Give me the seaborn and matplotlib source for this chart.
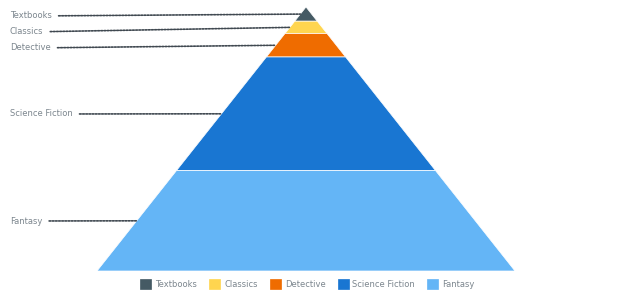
import matplotlib
matplotlib.use('Agg')
import matplotlib.pyplot as plt
import seaborn as sns
from matplotlib.patches import Patch

# Data (bottom to top)
categories = ["Fantasy", "Science Fiction", "Detective", "Classics", "Textbooks"]
values = [637166, 721630, 148662, 78662, 90000]
colors = ["#64b5f6", "#1976d2", "#ef6c00", "#ffd54f", "#455a64"]
legend_order = ["Textbooks", "Classics", "Detective", "Science Fiction", "Fantasy"]

sns.set_style('white')
plt.rcParams['font.family'] = ['DejaVu Sans']

W, H = 620, 300
fig = plt.figure(figsize=(W / 100, H / 100), dpi=100)
fig.patch.set_facecolor('white')
ax = fig.add_axes([97 / W, 29 / H, 418 / W, 264 / H])
total = sum(values)
ax.set_xlim(-0.5, 0.5)
ax.set_ylim(total, 0)
ax.axis('off')

# label vertical positions (pixels from top), spread to avoid overlap
label_y_px = {"Textbooks": 16, "Classics": 32, "Detective": 48,
              "Science Fiction": 114, "Fantasy": 221}

color_of = dict(zip(categories, colors))
cum = 0
for cat, val, col in zip(categories[::-1], values[::-1], colors[::-1]):
    y0, y1 = cum, cum + val
    w0, w1 = y0 / total / 2, y1 / total / 2
    ax.fill([-w0, w0, w1, -w1], [y0, y0, y1, y1], facecolor=col,
            edgecolor='white', linewidth=0.5)
    mid = (y0 + y1) / 2
    edge_x = -mid / total / 2
    ax.annotate(cat, xy=(edge_x, mid), xycoords='data',
                xytext=(10, H - label_y_px[cat]), textcoords='figure pixels',
                ha='left', va='center', fontsize=6, color='#7c868e',
                annotation_clip=False,
                arrowprops=dict(arrowstyle='-', color='#3f4850',
                                linestyle=(0, (1, 0.9)), linewidth=1.2,
                                shrinkA=2.5, shrinkB=0))
    cum = y1

handles = [Patch(facecolor=color_of[c], edgecolor=color_of[c], linewidth=0.5)
           for c in legend_order]
leg = fig.legend(handles, legend_order, loc='center',
                 bbox_to_anchor=(307.5 / W, 16 / H), ncol=5, frameon=False,
                 fontsize=6, handlelength=1.32, handleheight=1.32,
                 handletextpad=0.48, columnspacing=1.44, borderaxespad=0,
                 borderpad=0)
for t in leg.get_texts():
    t.set_color('#7c868e')

fig.savefig('out.png', dpi=100)
